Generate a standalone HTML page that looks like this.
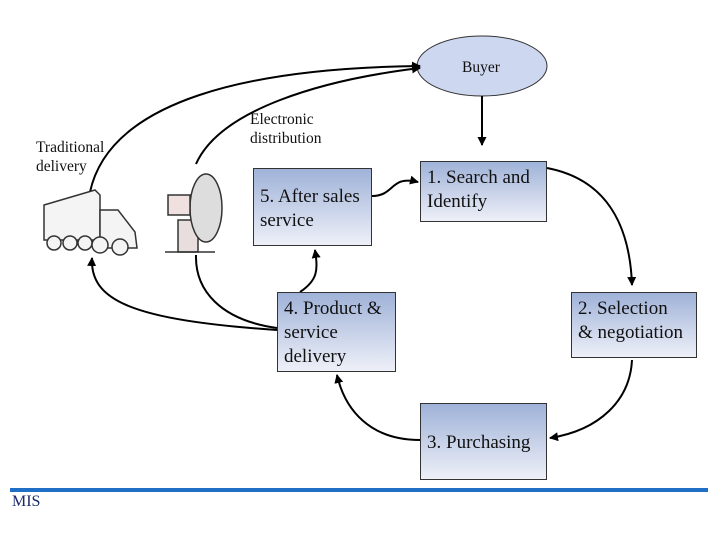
<html><body style="margin:0;width:720px;height:540px;background:#fff;position:relative;overflow:hidden;font-family:'Liberation Serif',serif">
<style>
.b{position:absolute;border:1px solid #333;background:linear-gradient(#9fb2d8,#eef0f8);font-size:19px;line-height:24px;padding:4px 6px;box-sizing:border-box;color:#111;white-space:nowrap}
.t{position:absolute;font-size:15.5px;line-height:19px;color:#111}
</style>
<svg width="720" height="540" style="position:absolute;left:0;top:0">
<defs><marker id="a" markerUnits="userSpaceOnUse" markerWidth="9" markerHeight="9" refX="8" refY="4.5" orient="auto"><path d="M0,0L9,4.5L0,9z" fill="#000"/></marker></defs>
<ellipse cx="482" cy="66" rx="65" ry="30" fill="#cdd7ef" stroke="#333"/>
<g fill="none" stroke="#000" stroke-width="2">
<path d="M90,192 C110,100 250,68 420,66" marker-end="url(#a)"/>
<path d="M196,164 C220,110 320,80 420,68" marker-end="url(#a)"/>
<path d="M482,96 L482,145" marker-end="url(#a)"/>
<path d="M372,196 C395,196 390,175 418,182" marker-end="url(#a)"/>
<path d="M547,168 C610,180 630,230 632,285" marker-end="url(#a)"/>
<path d="M632,360 C630,400 600,430 550,438" marker-end="url(#a)"/>
<path d="M420,440 C370,440 345,410 337,375" marker-end="url(#a)"/>
<path d="M300,292 C318,280 318,270 315,250" marker-end="url(#a)"/>
<path d="M277,330 C130,320 90,300 92,258" marker-end="url(#a)"/>
<path d="M277,328 C220,320 195,290 196,255"/>
</g>
<g stroke="#333" fill="#f4f4f4" stroke-width="1.5">
<path d="M44,205 L95,190 L100,195 L100,240 L44,240z"/>
<path d="M100,210 L118,210 L135,232 L137,248 L100,248z"/>
<circle cx="54" cy="243" r="7"/><circle cx="70" cy="243" r="7"/><circle cx="85" cy="243" r="7"/><circle cx="100" cy="245" r="8"/><circle cx="120" cy="247" r="8"/>
<rect x="178" y="220" width="20" height="32" fill="#e8dede"/>
<ellipse cx="206" cy="208" rx="16" ry="34" fill="#ddd"/>
<rect x="168" y="195" width="22" height="20" fill="#f0e0e0"/>
<line x1="165" y1="252" x2="215" y2="252"/>
</g>
<rect x="10" y="488" width="698" height="4" fill="#1f6fc6"/>
</svg>
<div class="t" style="left:462px;top:58px">Buyer</div>
<div class="t" style="left:36px;top:138px">Traditional<br>delivery</div>
<div class="t" style="left:250px;top:110px">Electronic<br>distribution</div>
<div class="b" style="left:253px;top:168px;width:119px;height:78px;padding-top:16px">5. After sales<br>service</div>
<div class="b" style="left:420px;top:161px;width:127px;height:61px">1. Search and<br>Identify</div>
<div class="b" style="left:277px;top:292px;width:119px;height:80px">4. Product &amp;<br>service<br>delivery</div>
<div class="b" style="left:571px;top:292px;width:126px;height:66px">2. Selection<br>&amp; negotiation</div>
<div class="b" style="left:420px;top:403px;width:127px;height:77px;padding-top:27px">3. Purchasing</div>
<div class="t" style="left:12px;top:492px;font-size:16px;color:#1a2a6a">MIS</div>
</body></html>
